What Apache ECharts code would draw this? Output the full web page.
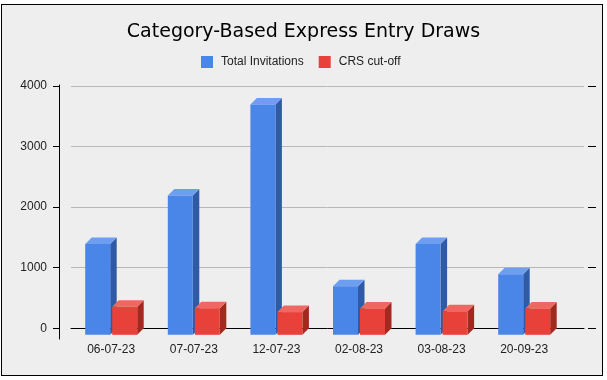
<!DOCTYPE html>
<html>
<head>
<meta charset="utf-8">
<script src="https://cdn.jsdelivr.net/npm/echarts@6/dist/echarts.min.js"></script>
<style>
  html, body { margin: 0; padding: 0; background: #ffffff; }
  #frame { position: absolute; left: 1px; top: 4px; width: 602px; height: 372px; box-sizing: border-box;
           border: 1.5px solid #000; background: #eeeeee; }
  #chart { position: absolute; left: 0; top: 0; width: 607px; height: 380px; }
</style>
</head>
<body>
<div id="frame"></div>
<div id="chart"></div>
<script>
const categories = ['06-07-23', '07-07-23', '12-07-23', '02-08-23', '03-08-23', '20-09-23'];
const totalInvitations = [1500, 2300, 3800, 800, 1500, 1000];
const crsCutoff = [463, 439, 375, 435, 388, 435];
const yTicks = [0, 1000, 2000, 3000, 4000];

const FONT = '"Liberation Sans", Arial, sans-serif';
const DEPTH = 6.5;
const BAR_W = 25;

function bar3d(offset, front, topC, sideC) {
  return function (params, api) {
    const cat = api.value(0), v = api.value(1);
    const t = api.coord([cat, v]);
    const b = api.coord([cat, 0]);
    const x = t[0] + offset;
    const yt = t[1], yb = b[1];
    return {
      type: 'group',
      children: [
        { type: 'polygon', shape: { points: [[x + BAR_W, yt + DEPTH], [x + BAR_W + DEPTH, yt], [x + BAR_W + DEPTH, yb], [x + BAR_W, yb + DEPTH]] }, style: { fill: sideC } },
        { type: 'polygon', shape: { points: [[x, yt + DEPTH], [x + DEPTH, yt], [x + BAR_W + DEPTH, yt], [x + BAR_W, yt + DEPTH]] }, style: { fill: topC } },
        { type: 'rect', shape: { x: x, y: yt + DEPTH, width: BAR_W, height: yb - yt }, style: { fill: front } }
      ]
    };
  };
}

const chart = echarts.init(document.getElementById('chart'), null, { renderer: 'canvas' });
const yMin = yTicks[0], yMax = yTicks[yTicks.length - 1], yInt = yTicks[1] - yTicks[0];

chart.setOption({
  animation: false,
  backgroundColor: 'transparent',
  title: {
    text: 'Category-Based Express Entry Draws',
    left: 'center',
    top: 18,
    textStyle: { fontFamily: '"Comic Sans MS", "DejaVu Sans", sans-serif', fontSize: 19, fontWeight: 'normal', color: '#000' }
  },
  legend: {
    left: 201, top: 56, padding: 0,
    itemWidth: 12, itemHeight: 12, itemGap: 15,
    icon: 'rect',
    textStyle: { fontFamily: FONT, fontSize: 12, color: '#222', padding: [0, 0, 0, 3] },
    data: ['Total Invitations', 'CRS cut-off']
  },
  grid: [
    { left: 71, right: 23, top: 86, bottom: 51.7 },
    { left: 69.9, right: 41.5, top: 86, bottom: 51.7 },
    { left: 71, right: 23, top: 85, bottom: 41 }
  ],
  xAxis: [
    { gridIndex: 0, type: 'category', data: categories, z: 1,
      axisLine: { show: true, lineStyle: { color: '#000', width: 1 } },
      axisTick: { show: false }, axisLabel: { show: false }, splitLine: { show: false } },
    { gridIndex: 1, type: 'category', data: categories,
      axisLine: { show: false }, axisTick: { show: false },
      axisLabel: { show: true, margin: 15, fontFamily: FONT, fontSize: 12, color: '#222' } },
    { gridIndex: 2, type: 'category', data: categories, show: false }
  ],
  yAxis: [
    { gridIndex: 0, type: 'value', min: yMin, max: yMax, interval: yInt, offset: 12,
      axisLine: { show: false },
      axisTick: { show: true, length: 6, lineStyle: { color: '#000' } },
      axisLabel: { show: true, margin: 12, fontFamily: FONT, fontSize: 12, color: '#222',
                   formatter: (v) => String(v) },
      splitLine: { show: true, lineStyle: { color: '#b8b8b8', width: 1 } } },
    { gridIndex: 0, type: 'value', min: yMin, max: yMax, interval: yInt, offset: 12,
      axisLine: { show: false },
      axisTick: { show: true, inside: true, length: 8, lineStyle: { color: '#000' } },
      axisLabel: { show: false }, splitLine: { show: false } },
    { gridIndex: 1, type: 'value', min: yMin, max: yMax, interval: yInt, show: false },
    { gridIndex: 2, type: 'value', min: 0, max: 1, offset: 12,
      axisLine: { show: true, lineStyle: { color: '#000', width: 1 } },
      axisTick: { show: false }, axisLabel: { show: false }, splitLine: { show: false } }
  ],
  series: [
    { name: 'Total Invitations', type: 'custom', xAxisIndex: 1, yAxisIndex: 2, z: 3,
      itemStyle: { color: '#4a86e8' },
      encode: { x: 0, y: 1 },
      renderItem: bar3d(-26, '#4a86e8', '#6d9ef0', '#2f5aa6'),
      data: totalInvitations.map((v, i) => [i, v]) },
    { name: 'CRS cut-off', type: 'custom', xAxisIndex: 1, yAxisIndex: 2, z: 4,
      itemStyle: { color: '#e8413a' },
      encode: { x: 0, y: 1 },
      renderItem: bar3d(1, '#e8413a', '#ee6861', '#a3281f'),
      data: crsCutoff.map((v, i) => [i, v]) }
  ]
});
</script>
</body>
</html>
